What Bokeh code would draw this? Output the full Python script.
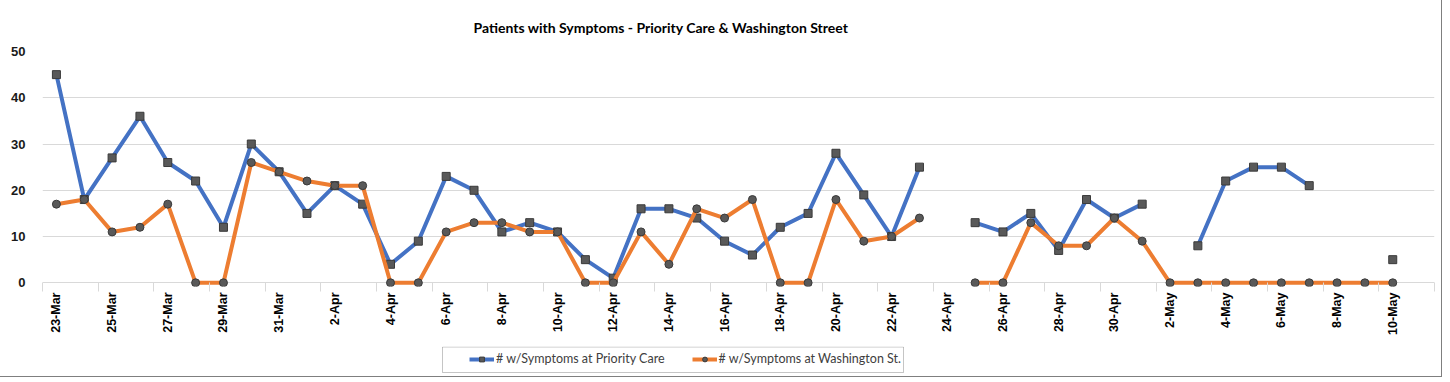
import math
from bokeh.plotting import figure
from bokeh.models import (Range1d, LinearAxis, FixedTicker, Legend, LegendItem,
                          ColumnDataSource, BoxAnnotation)
from bokeh.layouts import column
from bokeh.embed import file_html
from bokeh.resources import INLINE

dates = ["23-Mar", "24-Mar", "25-Mar", "26-Mar", "27-Mar", "28-Mar", "29-Mar", "30-Mar", "31-Mar",
         "1-Apr", "2-Apr", "3-Apr", "4-Apr", "5-Apr", "6-Apr", "7-Apr", "8-Apr", "9-Apr", "10-Apr",
         "11-Apr", "12-Apr", "13-Apr", "14-Apr", "15-Apr", "16-Apr", "17-Apr", "18-Apr", "19-Apr",
         "20-Apr", "21-Apr", "22-Apr", "23-Apr", "24-Apr", "25-Apr", "26-Apr", "27-Apr", "28-Apr",
         "29-Apr", "30-Apr", "1-May", "2-May", "3-May", "4-May", "5-May", "6-May", "7-May", "8-May",
         "9-May", "10-May", "11-May"]

nan = float("nan")
priority_care = [45, 18, 27, 36, 26, 22, 12, 30, 24,
                 15, 21, 17, 4, 9, 23, 20, 11, 13, 11,
                 5, 1, 16, 16, 14, 9, 6, 12, 15,
                 28, 19, 10, 25, nan, 13, 11, 15, 7,
                 18, 14, 17, nan, 8, 22, 25, 25, 21, nan,
                 nan, 5, nan]
washington_st = [17, 18, 11, 12, 17, 0, 0, 26, 24,
                 22, 21, 21, 0, 0, 11, 13, 13, 11, 11,
                 0, 0, 11, 4, 16, 14, 18, 0, 0,
                 18, 9, 10, 14, nan, 0, 0, 13, 8,
                 8, 14, 9, 0, 0, 0, 0, 0, 0, 0,
                 0, 0, nan]
y_ticks = [0, 10, 20, 30, 40, 50]
series_names = ["# w/Symptoms at Priority Care", "# w/Symptoms at Washington St."]

BLUE = "#4472C4"
ORANGE = "#ED7D31"
MARK_FILL = "#595959"
MARK_LINE = "#3a3a3a"
FONT = "Lato"
AXFONT = "Liberation Sans"

idx = list(range(len(dates)))
src = ColumnDataSource(dict(x=idx, pc=priority_care, ws=washington_st))

p = figure(frame_width=1392, frame_height=235, output_backend="svg", toolbar_location=None,
           x_axis_type=None,
           x_range=Range1d(-0.5, len(dates) - 0.5), y_range=Range1d(-0.8, 50),
           min_border_left=42, min_border_right=7, min_border_top=10, min_border_bottom=60)
p.outline_line_color = None
p.background_fill_color = "white"
p.border_fill_color = "white"

p.title.text = "Patients with Symptoms - Priority Care & Washington Street"
p.title.align = "left"
p.title.offset = 431
p.title.text_font = FONT
p.title.text_font_style = "bold"
p.title.text_font_size = "14px"
p.title.text_color = "#000000"
p.title.standoff = 32

# y axis
yt = FixedTicker(ticks=y_ticks)
p.yaxis.ticker = yt
p.ygrid.ticker = yt
p.ygrid.grid_line_color = "#d9d9d9"
p.yaxis.axis_line_color = None
p.yaxis.major_tick_line_color = None
p.yaxis.minor_tick_line_color = None
p.yaxis.major_label_text_font = AXFONT
p.yaxis.major_label_text_font_style = "bold"
p.yaxis.major_label_text_font_size = "13px"
p.yaxis.major_label_text_color = "#1a1a1a"
p.yaxis.major_label_standoff = 11

# x axis: tick marks between categories
bticks = [i - 0.5 for i in range(0, len(dates) + 1, 2)]
tick_axis = LinearAxis(ticker=FixedTicker(ticks=bticks),
                       major_label_overrides={t: "" for t in bticks})
tick_axis.axis_line_color = None
tick_axis.major_tick_line_color = "#d9d9d9"
tick_axis.major_tick_in = 4
tick_axis.major_tick_out = 5
tick_axis.minor_tick_line_color = None
tick_axis.major_label_text_font_size = "1px"
tick_axis.major_label_standoff = 0
p.add_layout(tick_axis, "below")

# x axis: labels at categories
label_ticks = list(range(0, len(dates) - 1, 2))
label_axis = LinearAxis(ticker=FixedTicker(ticks=label_ticks),
                        major_label_overrides={i: dates[i] for i in label_ticks})
label_axis.axis_line_color = None
label_axis.major_tick_line_color = None
label_axis.minor_tick_line_color = None
label_axis.major_tick_in = 0
label_axis.major_tick_out = 0
label_axis.major_label_orientation = math.pi / 2
label_axis.major_label_text_font = AXFONT
label_axis.major_label_text_font_style = "bold"
label_axis.major_label_text_font_size = "12.5px"
label_axis.major_label_text_color = "#000000"
label_axis.major_label_standoff = 1
p.add_layout(label_axis, "below")

# series
def draw_series(fig, ycol, color, marker):
    ln = fig.line("x", ycol, source=src, line_color=color, line_width=4, line_join="round")
    mk = fig.scatter("x", ycol, source=src, marker=marker, size=8,
                     fill_color=MARK_FILL, line_color=MARK_LINE, line_width=1)
    return ln, mk

draw_series(p, "pc", BLUE, "square")
draw_series(p, "ws", ORANGE, "circle")

# legend strip below the chart (data of this strip lies outside its view)
p2 = figure(frame_width=1392, frame_height=30, output_backend="svg", toolbar_location=None,
            x_axis_type=None, y_axis_type=None,
            x_range=Range1d(0, 1392), y_range=Range1d(-60, -30),
            min_border_left=42, min_border_right=7, min_border_top=0, min_border_bottom=0)
p2.outline_line_color = None
p2.grid.visible = False
la, ma = draw_series(p2, "pc", BLUE, "square")
lb, mb = draw_series(p2, "ws", ORANGE, "circle")

p2.add_layout(BoxAnnotation(left=400, right=861, bottom=-56, top=-30.5,
                            fill_color=None, fill_alpha=0,
                            line_color="#404040", line_width=1))

legend = Legend(items=[LegendItem(label=series_names[0], renderers=[la, ma]),
                       LegendItem(label=series_names[1], renderers=[lb, mb])],
                orientation="horizontal", location=(427, 10))
legend.label_text_font = FONT
legend.label_text_font_size = "12.5px"
legend.label_text_color = "#404040"
legend.border_line_color = None
legend.background_fill_color = None
legend.glyph_width = 25
legend.glyph_height = 12
legend.label_standoff = 2
legend.spacing = 27
legend.padding = 0
legend.margin = 0
legend.label_height = 14
p2.add_layout(legend, "center")

layout = column(p, p2, spacing=0)
layout.styles = {"outline": "1px solid #7f7f7f"}
open("out.html", "w").write(file_html(layout, INLINE))
